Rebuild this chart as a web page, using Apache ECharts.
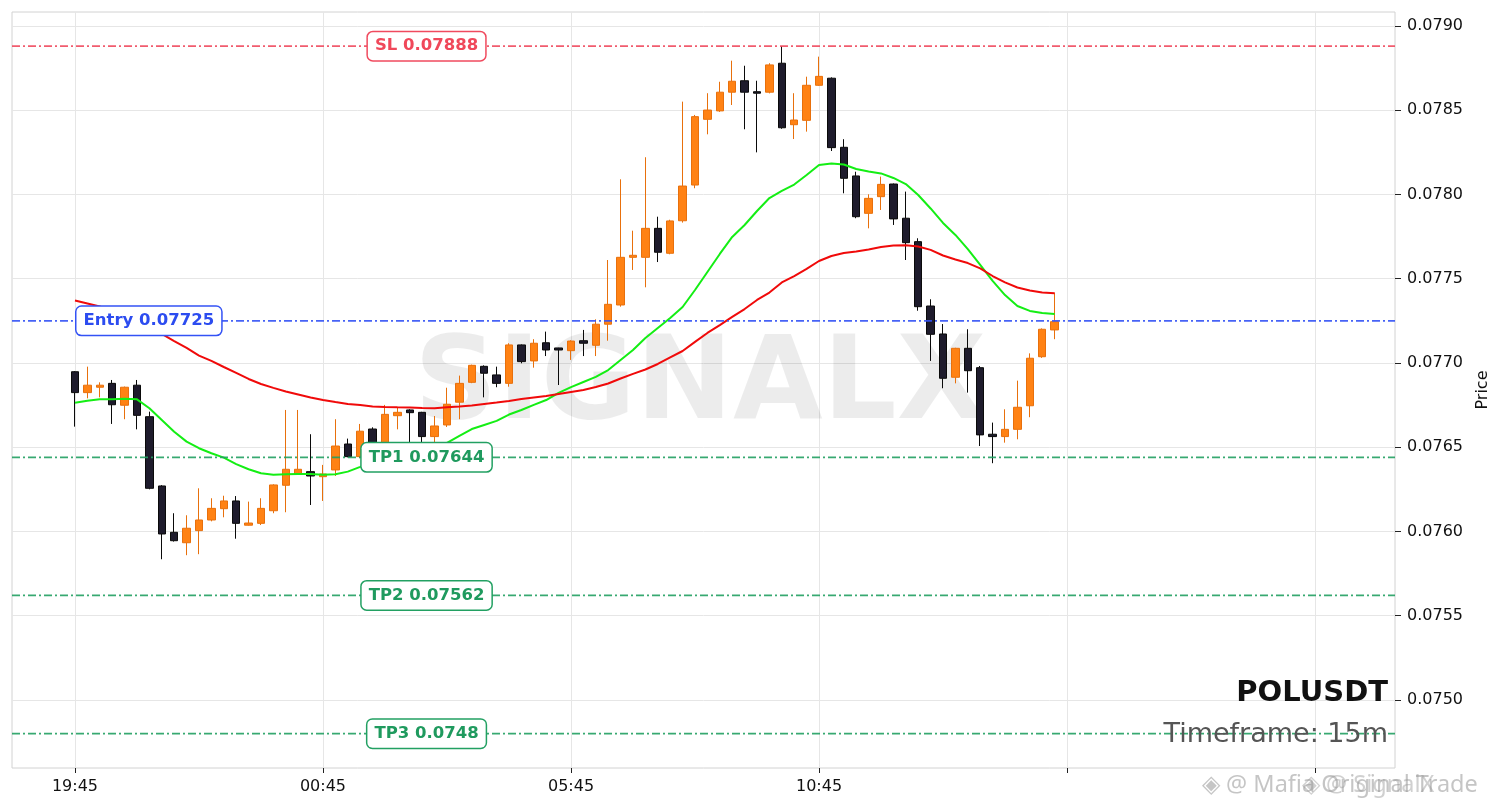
<!DOCTYPE html>
<html>
<head>
<meta charset="utf-8">
<title>POLUSDT 15m</title>
<script src="https://cdn.jsdelivr.net/npm/echarts@6/dist/echarts.min.js"></script>
<style>
  html, body { margin: 0; padding: 0; background: #fff; }
  #chart { width: 1501px; height: 808px; }
</style>
</head>
<body>
<div id="chart"></div>
<script>
/* Candles, 15m, first one at 19:45 */
var openPrices = [
    0.076948, 0.076824, 0.076856, 0.076879, 0.076749, 0.076868, 0.076681, 0.076270, 0.075995, 0.075933,
    0.076005, 0.076068, 0.076135, 0.076181, 0.076037, 0.076048, 0.076123, 0.076274, 0.076341, 0.076355,
    0.076325, 0.076365, 0.076519, 0.076444, 0.076608, 0.076523, 0.076687, 0.076721, 0.076707, 0.076563,
    0.076632, 0.076767, 0.076885, 0.076980, 0.076929, 0.076879, 0.077107, 0.077012, 0.077120, 0.077089,
    0.077073, 0.077132, 0.077105, 0.077230, 0.077344, 0.077627, 0.077627, 0.077799, 0.077651, 0.077844,
    0.078056, 0.078446, 0.078496, 0.078607, 0.078675, 0.078610, 0.078607, 0.078779, 0.078414, 0.078440,
    0.078648, 0.078690, 0.078280, 0.078110, 0.077888, 0.077987, 0.078062, 0.077859, 0.077720, 0.077338,
    0.077172, 0.076915, 0.077087, 0.076972, 0.076577, 0.076563, 0.076606, 0.076746, 0.077037, 0.077196
];
var closePrices = [
    0.076824, 0.076868, 0.076868, 0.076752, 0.076856, 0.076689, 0.076256, 0.075985, 0.075945, 0.076019,
    0.076068, 0.076137, 0.076181, 0.076048, 0.076050, 0.076137, 0.076276, 0.076369, 0.076369, 0.076329,
    0.076341, 0.076507, 0.076444, 0.076595, 0.076523, 0.076695, 0.076707, 0.076705, 0.076563, 0.076626,
    0.076755, 0.076879, 0.076986, 0.076939, 0.076879, 0.077107, 0.077008, 0.077117, 0.077077, 0.077077,
    0.077130, 0.077117, 0.077230, 0.077348, 0.077627, 0.077639, 0.077799, 0.077657, 0.077843, 0.078050,
    0.078462, 0.078501, 0.078607, 0.078672, 0.078607, 0.078601, 0.078769, 0.078396, 0.078442, 0.078648,
    0.078701, 0.078278, 0.078096, 0.077868, 0.077977, 0.078060, 0.077855, 0.077714, 0.077334, 0.077170,
    0.076909, 0.077087, 0.076954, 0.076573, 0.076563, 0.076606, 0.076737, 0.077028, 0.077200, 0.077245
];
var lowPrices = [
    0.076622, 0.076790, 0.076796, 0.076638, 0.076666, 0.076606, 0.076250, 0.075835, 0.075940, 0.075859,
    0.075865, 0.076060, 0.076084, 0.075957, 0.076035, 0.076038, 0.076108, 0.076114, 0.076340, 0.076157,
    0.076181, 0.076329, 0.076440, 0.076435, 0.076500, 0.076505, 0.076606, 0.076523, 0.076527, 0.076527,
    0.076620, 0.076666, 0.076880, 0.076796, 0.076856, 0.076859, 0.076998, 0.076972, 0.077041, 0.076869,
    0.077018, 0.077041, 0.077041, 0.077132, 0.077334, 0.077552, 0.077449, 0.077599, 0.077645, 0.077833,
    0.078037, 0.078357, 0.078490, 0.078531, 0.078387, 0.078250, 0.078600, 0.078390, 0.078329, 0.078373,
    0.078645, 0.078258, 0.078007, 0.077859, 0.077799, 0.077908, 0.077819, 0.077611, 0.077310, 0.077012,
    0.076850, 0.076879, 0.076824, 0.076507, 0.076405, 0.076527, 0.076547, 0.076678, 0.077030, 0.077141
];
var highPrices = [
    0.076952, 0.076978, 0.076885, 0.076899, 0.076860, 0.076899, 0.076711, 0.076275, 0.076108, 0.076096,
    0.076256, 0.076197, 0.076212, 0.076210, 0.076177, 0.076197, 0.076280, 0.076721, 0.076721, 0.076577,
    0.076395, 0.076666, 0.076551, 0.076638, 0.076618, 0.076751, 0.076737, 0.076725, 0.076710, 0.076685,
    0.076853, 0.076925, 0.076990, 0.076986, 0.076978, 0.077117, 0.077110, 0.077141, 0.077186, 0.077090,
    0.077135, 0.077196, 0.077259, 0.077611, 0.078090, 0.077785, 0.078221, 0.077868, 0.077850, 0.078551,
    0.078472, 0.078601, 0.078669, 0.078794, 0.078764, 0.078675, 0.078779, 0.078881, 0.078601, 0.078699,
    0.078818, 0.078695, 0.078328, 0.078135, 0.078001, 0.078106, 0.078065, 0.078017, 0.077740, 0.077378,
    0.077231, 0.077090, 0.077200, 0.076982, 0.076646, 0.076725, 0.076895, 0.077057, 0.077205, 0.077417
];
/* Moving averages */
var maFast = [
    0.076764, 0.076776, 0.076784, 0.076784, 0.076788, 0.076784, 0.076731, 0.076662, 0.076592, 0.076533,
    0.076494, 0.076464, 0.076438, 0.076400, 0.076369, 0.076345, 0.076337, 0.076339, 0.076341, 0.076341,
    0.076337, 0.076339, 0.076355, 0.076383, 0.076412, 0.076436, 0.076454, 0.076472, 0.076484, 0.076498,
    0.076525, 0.076567, 0.076608, 0.076632, 0.076656, 0.076694, 0.076721, 0.076751, 0.076780, 0.076822,
    0.076857, 0.076887, 0.076917, 0.076958, 0.077018, 0.077077, 0.077148, 0.077208, 0.077267, 0.077332,
    0.077433, 0.077540, 0.077647, 0.077748, 0.077819, 0.077902, 0.077979, 0.078021, 0.078059, 0.078116,
    0.078175, 0.078184, 0.078178, 0.078151, 0.078136, 0.078125, 0.078098, 0.078062, 0.077997, 0.077917,
    0.077831, 0.077760, 0.077676, 0.077582, 0.077487, 0.077403, 0.077338, 0.077309, 0.077297, 0.077291
];
var maSlow = [
    0.077371, 0.077353, 0.077335, 0.077309, 0.077279, 0.077243, 0.077208, 0.077172, 0.077130, 0.077089,
    0.077044, 0.077012, 0.076976, 0.076941, 0.076905, 0.076875, 0.076852, 0.076831, 0.076813, 0.076795,
    0.076780, 0.076768, 0.076757, 0.076751, 0.076742, 0.076739, 0.076737, 0.076736, 0.076733, 0.076731,
    0.076737, 0.076742, 0.076748, 0.076757, 0.076765, 0.076774, 0.076786, 0.076795, 0.076804, 0.076816,
    0.076828, 0.076840, 0.076857, 0.076878, 0.076908, 0.076935, 0.076961, 0.076994, 0.077033, 0.077071,
    0.077125, 0.077178, 0.077225, 0.077273, 0.077320, 0.077374, 0.077418, 0.077478, 0.077516, 0.077558,
    0.077605, 0.077635, 0.077653, 0.077662, 0.077674, 0.077688, 0.077697, 0.077698, 0.077691, 0.077671,
    0.077638, 0.077614, 0.077593, 0.077561, 0.077516, 0.077478, 0.077448, 0.077430, 0.077418, 0.077414
];

/* Trade levels */
var levelNames  = ['SL', 'Entry', 'TP1', 'TP2', 'TP3'];
var levelPrices = [0.07888, 0.07725, 0.07644, 0.07562, 0.0748];
var levelColors = ['#f0485a', '#2c4cf0', '#1f9a5e', '#1f9a5e', '#1f9a5e'];
var levelLines  = ['#f04a5e', '#3352f5', '#22a062', '#22a062', '#22a062'];
var levelLabelX = [28.35, 0, 28.35, 28.35, 28.35];

/* Axis ticks */
var timeTickIdx   = [0, 20, 40, 60, 80, 100];
var timeTickLabel = ['19:45', '00:45', '05:45', '10:45', '', ''];
var priceTicks    = [0.0750, 0.0755, 0.0760, 0.0765, 0.0770, 0.0775, 0.0780, 0.0785, 0.0790];

var X_MIN = -5.08, X_MAX = 106.45;
var Y_MIN = 0.074596, Y_MAX = 0.079083;
var FONT = 'DejaVu Sans';

var chart = echarts.init(document.getElementById('chart'), null, {renderer: 'canvas'});

var candleData = openPrices.map(function(o, i)
{
    return [i, o, closePrices[i], lowPrices[i], highPrices[i]];
});
var fastData = maFast.map(function(v, i) { return [i, v]; });
var slowData = maSlow.map(function(v, i) { return [i, v]; });

/* Horizontal trade levels across the whole plot, dash-dot like the original */
var levelSeries = levelPrices.map(function(p, i)
{
    return {
        type: 'line',
        name: levelNames[i],
        z: 4,
        silent: true,
        symbol: 'none',
        showSymbol: false,
        data: [[X_MIN, p], [X_MAX, p]],
        lineStyle: {color: levelLines[i], width: 1.7, opacity: 0.9, type: [8, 3, 2, 3]},
        emphasis: {disabled: true}
    };
});

var levelLabelData = levelPrices.map(function(p, i)
{
    return {
        value: [levelLabelX[i], p],
        label: {
            show: true,
            position: i == 1 ? 'right' : 'inside',
            distance: 1,
            formatter: levelNames[i] + ' ' + p,
            color: levelColors[i],
            opacity: 1,
            textBorderWidth: 0,
            fontFamily: FONT,
            fontWeight: 'bold',
            fontSize: 16.5,
            backgroundColor: '#ffffff',
            borderColor: levelLines[i],
            borderWidth: 1.5,
            borderRadius: 5,
            padding: [6, 7, 5, 7]
        }
    };
});

var option =
{
    animation: false,
    backgroundColor: '#ffffff',
    grid:
    {
        left: 12, right: 106, top: 12, bottom: 40,
        show: true,
        borderColor: '#d2d2d2',
        borderWidth: 1,
        containLabel: false,
        outerBoundsMode: 'none'
    },
    xAxis:
    {
        type: 'value',
        min: X_MIN,
        max: X_MAX,
        axisLine: {show: false, onZero: false},
        axisTick: {show: true, customValues: timeTickIdx, length: 5, lineStyle: {color: '#222'}},
        axisLabel:
        {
            customValues: timeTickIdx,
            fontFamily: FONT, fontSize: 16, color: '#111', margin: 11,
            formatter: function(v)
            {
                var k = timeTickIdx.indexOf(Math.round(v));
                return k >= 0 ? timeTickLabel[k] : '';
            }
        },
        splitLine: {show: true, lineStyle: {color: '#e6e6e6', width: 1}}
    },
    yAxis:
    {
        type: 'value',
        position: 'right',
        min: Y_MIN,
        max: Y_MAX,
        scale: true,
        name: 'Price',
        nameLocation: 'middle',
        nameGap: 80,
        nameRotate: 90,
        nameTextStyle: {fontFamily: FONT, fontSize: 16, color: '#111'},
        axisLine: {show: false, onZero: false},
        axisTick: {show: true, customValues: priceTicks, length: 6, lineStyle: {color: '#222'}},
        axisLabel:
        {
            customValues: priceTicks,
            fontFamily: FONT, fontSize: 16, color: '#111', margin: 12,
            formatter: function(v) { return v.toFixed(4); }
        },
        splitLine: {show: true, lineStyle: {color: '#e6e6e6', width: 1}}
    },
    graphic:
    [
        {
            type: 'text', z: 1, silent: true,
            x: 700, y: 388,
            style:
            {
                text: 'SIGNALX',
                font: 'bold 116px "DejaVu Sans"',
                fill: 'rgba(0,0,0,0.075)',
                textAlign: 'center', textVerticalAlign: 'middle'
            }
        },
        {
            type: 'text', z: 20, silent: true, x: 1388, y: 693,
            style: {text: 'POLUSDT', font: 'bold 29px "DejaVu Sans"', fill: '#111', textAlign: 'right', textVerticalAlign: 'middle'}
        },
        {
            type: 'text', z: 20, silent: true, x: 1388, y: 735,
            style: {text: 'Timeframe: 15m', font: '27px "DejaVu Sans"', fill: '#555', textAlign: 'right', textVerticalAlign: 'middle'}
        },
        {
            type: 'text', z: 20, silent: true, x: 1202, y: 785,
            style: {text: '\u25C8 @ Mafia Original Trade', font: '23.5px "Noto Sans"', fill: 'rgba(150,150,150,0.55)', textAlign: 'left', textVerticalAlign: 'middle'}
        },
        {
            type: 'text', z: 20, silent: true, x: 1302, y: 785,
            style: {text: '\u25C8 @ SignalX', font: '23.5px "Noto Sans"', fill: 'rgba(150,150,150,0.45)', textAlign: 'left', textVerticalAlign: 'middle'}
        }
    ],
    series:
    [
        {
            type: 'candlestick',
            name: 'POLUSDT',
            z: 2,
            barWidth: 8,
            encode: {x: 0, y: [1, 2, 3, 4]},
            data: candleData,
            itemStyle:
            {
                color: '#ff8214',
                color0: '#1e1b2c',
                borderColor: '#e8700c',
                borderColor0: '#0a0a0a',
                borderWidth: 1
            }
        },
        {
            type: 'line', name: 'MA fast', z: 3, data: fastData,
            showSymbol: false, symbol: 'none', smooth: false,
            lineStyle: {color: '#14ee14', width: 2}
        },
        {
            type: 'line', name: 'MA slow', z: 3, data: slowData,
            showSymbol: false, symbol: 'none', smooth: false,
            lineStyle: {color: '#f00a0a', width: 2}
        }
    ].concat(levelSeries).concat([
        {
            type: 'scatter', name: 'levels', z: 6,
            symbolSize: 1,
            silent: true,
            itemStyle: {color: 'rgba(0,0,0,0)'},
            emphasis: {disabled: true},
            data: levelLabelData
        }
    ])
};

chart.setOption(option);
</script>
</body>
</html>
